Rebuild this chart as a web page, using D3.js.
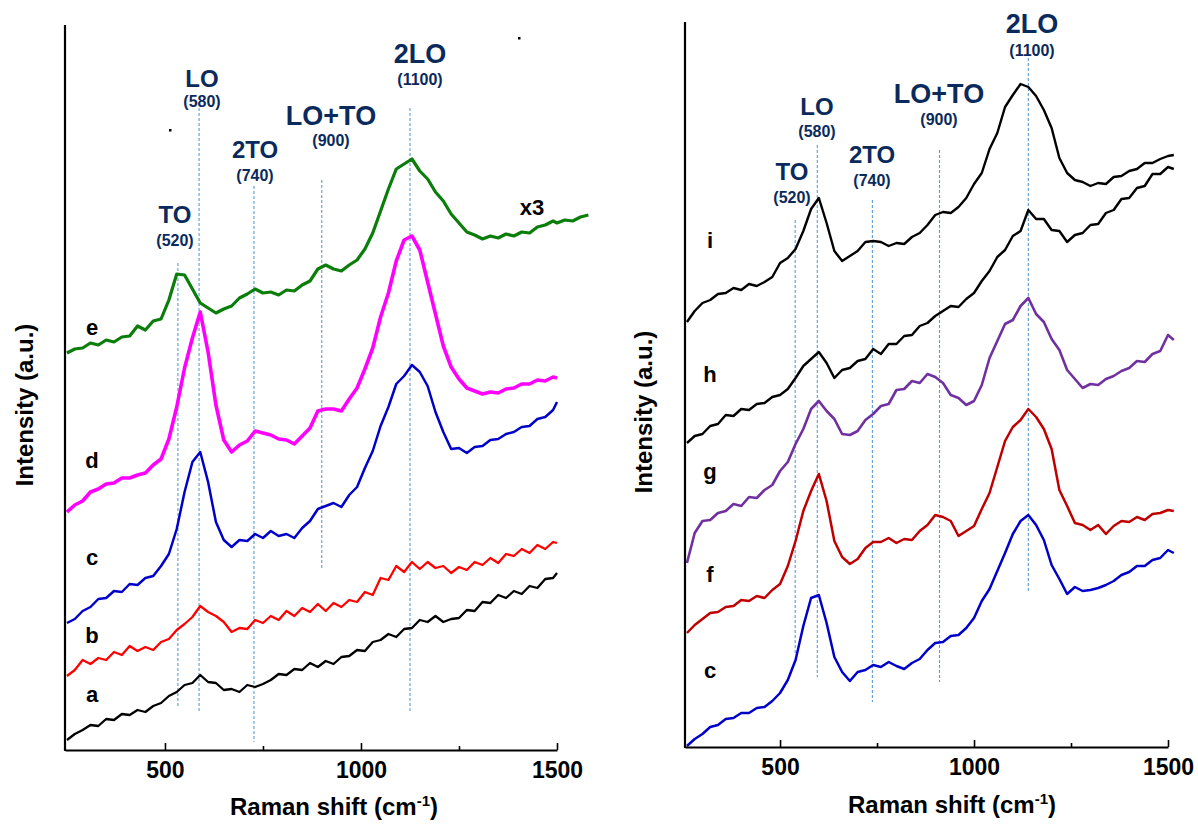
<!DOCTYPE html>
<html><head><meta charset="utf-8">
<script src="https://cdn.jsdelivr.net/npm/d3@7"></script>
<style>
body{margin:0;background:#fff}
svg{display:block}
text{font-family:"Liberation Sans",Arial,sans-serif;font-weight:bold}
</style></head>
<body><svg id="chart" width="1198" height="825"></svg>
<script>
// ---------- DATA ----------
// Raman shift sampling (cm-1)
const shiftL = [250,270,290,310,330,350,370,390,410,430,450,470,490,510,530,550,570,590,610,630,650,670,690,710,730,750,770,790,810,830,850,870,890,910,930,950,970,990,1010,1030,1050,1070,1090,1110,1130,1150,1170,1190,1210,1230,1250,1270,1290,1310,1330,1350,1370,1390,1410,1430,1450,1470,1490,1500];
const shiftLExt = [1520,1540,1560,1580];
const shiftR = [260,280,300,320,340,360,380,400,420,440,460,480,500,520,540,560,580,600,620,640,660,680,700,720,740,760,780,800,820,840,860,880,900,920,940,960,980,1000,1020,1040,1060,1080,1100,1120,1140,1160,1180,1200,1220,1240,1260,1280,1300,1320,1340,1360,1380,1400,1420,1440,1460,1480,1500,1515];

// Left panel intensities (a.u., offset stacked)
const seriesA = [10,16,20,25,24,31,30,36,35,40,38,44,47,54,58,65,67,75,68,67,60,61,58,65,63,66,70,76,75,81,80,87,83,89,86,93,94,100,99,108,110,116,113,121,122,130,128,134,128,131,132,140,139,148,147,155,152,159,156,164,162,171,172,177];
const seriesB = [74,80,90,86,92,90,98,95,104,99,103,100,108,111,120,126,133,144,138,134,128,118,122,121,130,127,134,130,139,134,142,138,146,139,147,143,150,148,158,155,172,170,184,178,188,181,188,182,184,177,183,180,188,185,192,187,196,194,201,197,205,201,208,207];
const seriesC = [127,131,139,143,151,152,159,158,166,165,172,174,184,196,221,258,288,298,268,228,210,203,210,209,216,212,219,214,216,212,222,229,241,244,247,243,255,263,282,299,324,343,366,374,385,378,364,338,318,301,302,297,303,304,310,311,316,318,323,324,331,333,340,348];
const seriesD = [238,245,249,258,261,266,267,272,272,275,277,285,291,311,343,382,412,438,398,345,310,298,305,309,319,317,315,311,310,306,314,322,339,341,341,339,351,362,381,402,433,457,489,510,514,500,468,436,404,383,371,362,359,356,358,357,361,362,366,366,370,369,373,372];
const seriesE = [397,401,402,407,405,410,408,413,414,424,420,429,431,450,476,475,461,447,442,437,441,444,452,456,461,457,458,455,460,459,465,469,481,485,481,479,485,490,501,517,539,561,581,586,591,579,571,558,549,536,527,518,515,511,514,512,516,514,518,517,523,525,529,527,530,529,533,535];

// Right panel intensities
const seriesC2 = [1,8,13,20,22,28,29,34,34,39,40,46,54,67,87,121,149,152,124,90,75,66,75,77,82,80,85,81,78,84,88,97,104,105,111,112,119,129,146,158,176,194,213,226,232,222,207,182,168,153,160,156,157,159,162,166,172,175,181,181,187,189,197,194];
const seriesF = [114,122,128,134,135,140,141,147,146,151,149,157,163,181,206,236,256,273,246,206,190,183,188,199,205,205,209,204,208,207,216,222,232,230,226,211,216,221,238,254,280,306,320,327,338,330,318,298,257,241,224,222,217,222,213,221,226,225,230,227,233,234,237,236];
const seriesG = [184,214,226,227,234,236,243,241,250,249,257,262,276,285,303,318,338,346,336,328,313,312,316,327,333,341,343,357,358,366,364,373,370,364,352,349,342,346,362,389,406,423,427,441,449,433,425,408,397,377,368,359,363,362,368,371,376,379,386,385,393,396,412,407];
const seriesH = [304,311,313,321,323,332,331,338,337,343,344,350,352,358,369,381,388,395,384,369,377,379,386,388,398,393,403,403,411,412,421,424,431,436,441,440,448,454,466,476,490,497,511,516,537,528,528,517,516,505,512,514,522,523,534,537,548,549,559,561,573,573,580,578];
const seriesI = [425,436,444,447,453,454,459,457,463,461,465,470,484,489,498,516,538,549,524,496,486,491,496,505,506,505,501,504,503,510,514,522,532,535,534,540,549,563,574,598,614,640,652,663,660,651,637,619,589,574,567,565,561,564,563,570,571,576,578,584,584,588,591,592];

const seriesNamesL = ["a","b","c","d","e"];
const seriesNamesR = ["c","f","g","h","i"];

// Phonon mode markers
const modeNames = ["TO","LO","2TO","LO+TO","2LO"];
const modeNums = ["(520)","(580)","(740)","(900)","(1100)"];
const modeShiftL = [533,587,727,900,1125];
const modeTopL = [487,642,564,570,642];
const modeBottomL = [42,38,8,182,38];
const modeShiftR = [539,596,738,911,1140];
const modeTopR = [527,602,547,597,689];
const modeBottomR = [94,70,45,65,155];

const tickVals = [500,750,1000,1250,1500];
const tickLabels = ["500","","1000","","1500"];

// ---------- LAYOUT / STYLE ----------
const svg = d3.select("#chart");
const navy = "#0b2a5c";
const dashCol = "#5b9bd5";
const modeNameSize = [24,24,24,27,27];

function drawPanel(p) {
  const x = d3.scaleLinear().domain(p.xDomain).range(p.xRange);
  const y = d3.scaleLinear().domain([0,725]).range(p.yRange);
  const g = svg.append("g");

  // dashed mode lines
  p.modeShift.forEach((m,i) => {
    g.append("line")
      .attr("x1", x(m)).attr("x2", x(m))
      .attr("y1", y(p.modeTop[i])).attr("y2", y(p.modeBottom[i]))
      .attr("stroke", dashCol).attr("stroke-width", 1.1)
      .attr("stroke-dasharray", "3,2");
  });

  // spectra
  const line = d3.line().x(d => x(d[0])).y(d => y(d[1]));
  p.series.forEach(s => {
    const pts = s.values.map((v,i) => [s.shift[i], v]);
    g.append("path").datum(pts).attr("d", line)
      .attr("fill","none").attr("stroke", s.color)
      .attr("stroke-width", s.width).attr("stroke-linejoin","round");
  });

  // axes
  const ax = d3.axisBottom(x).tickValues(tickVals)
    .tickFormat((d,i) => tickLabels[i]).tickSizeInner(-7).tickSizeOuter(0).tickPadding(12);
  const axg = g.append("g").attr("transform", `translate(0,${p.yRange[0]})`).call(ax);
  axg.select(".domain").attr("stroke","#000").attr("stroke-width",2.2);
  axg.selectAll(".tick line").attr("stroke","#000").attr("stroke-width",1.6)
    .attr("y2", (d) => d % 500 === 0 ? -7 : -4);
  axg.selectAll(".tick text").attr("font-size", 23).attr("fill","#000")
    .attr("font-family",'"Liberation Sans",Arial,sans-serif').attr("font-weight","bold");

  g.append("line").attr("x1", p.xRange[0]).attr("x2", p.xRange[0])
    .attr("y1", y(725)).attr("y2", p.yRange[0] + 1)
    .attr("stroke","#000").attr("stroke-width",2.2);

  // axis titles
  const xt = g.append("text").attr("x", p.xTitleX).attr("y", p.xTitleY)
    .attr("text-anchor","middle").attr("font-size",24).attr("fill","#000");
  xt.append("tspan").text("Raman shift (cm");
  xt.append("tspan").text("-1").attr("font-size",15).attr("dy",-9);
  xt.append("tspan").text(")").attr("dy",9);

  g.append("text").attr("transform", `translate(${p.yTitleX},${p.yTitleY}) rotate(-90)`)
    .attr("text-anchor","middle").attr("font-size",24).attr("fill","#000")
    .text("Intensity (a.u.)");

  // mode labels
  modeNames.forEach((n,i) => {
    g.append("text").attr("x", p.labelX[i]).attr("y", p.nameY[i])
      .attr("text-anchor","middle").attr("font-size",modeNameSize[i]).attr("fill",navy).text(n);
    g.append("text").attr("x", p.labelX[i]).attr("y", p.numY[i])
      .attr("text-anchor","middle").attr("font-size",16).attr("fill",navy).text(modeNums[i]);
  });

  // series letters
  p.names.forEach((n,i) => {
    g.append("text").attr("x", p.letterX).attr("y", p.letterY[i])
      .attr("text-anchor","middle").attr("font-size",22).attr("fill","#000").text(n);
  });
  return {g, x, y};
}

const left = drawPanel({
  xDomain:[245,1500], xRange:[65,557], yRange:[750,25],
  modeShift: modeShiftL, modeTop: modeTopL, modeBottom: modeBottomL,
  series: [
    {shift: shiftL, values: seriesA, color:"#000000", width:2.3},
    {shift: shiftL, values: seriesB, color:"#ff0000", width:2.3},
    {shift: shiftL, values: seriesC, color:"#0000c8", width:2.5},
    {shift: shiftL, values: seriesD, color:"#ff00ff", width:3.6},
    {shift: shiftL.concat(shiftLExt), values: seriesE, color:"#0a7d0a", width:3.2}
  ],
  xTitleX:334, xTitleY:815, yTitleX:33, yTitleY:405,
  labelX:[175,202,255,331,420], nameY:[223,87,158,125,63], numY:[246,107,181,146,85],
  names: seriesNamesL, letterX:92, letterY:[702,643,565,468,335]
});
left.g.append("text").attr("x",532).attr("y",215).attr("text-anchor","middle")
  .attr("font-size",22).attr("fill","#000").text("x3");
left.g.append("rect").attr("x",169).attr("y",129).attr("width",2.5).attr("height",2.5).attr("fill","#000");
left.g.append("rect").attr("x",518).attr("y",37).attr("width",2.5).attr("height",2.5).attr("fill","#000");

drawPanel({
  xDomain:[255,1500], xRange:[685,1168], yRange:[747,22],
  modeShift: modeShiftR, modeTop: modeTopR, modeBottom: modeBottomR,
  series: [
    {shift: shiftR, values: seriesC2, color:"#0000c8", width:2.5},
    {shift: shiftR, values: seriesF, color:"#c00000", width:2.5},
    {shift: shiftR, values: seriesG, color:"#7030a0", width:2.6},
    {shift: shiftR, values: seriesH, color:"#000000", width:2.4},
    {shift: shiftR, values: seriesI, color:"#000000", width:2.4}
  ],
  xTitleX:952, xTitleY:813, yTitleX:652, yTitleY:412,
  labelX:[792,817,872,939,1032], nameY:[180,115,163,103,33], numY:[203,137,186,125,56],
  names: seriesNamesR, letterX:710, letterY:[678,582,479,382,248]
});
</script></body></html>
